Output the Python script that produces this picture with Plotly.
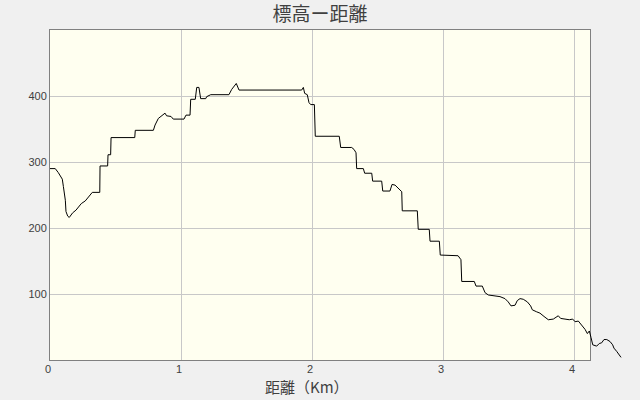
import plotly.graph_objects as go

# Elevation profile: distance (km) and elevation (m)
distance_km = [
    0.000, 0.040, 0.063, 0.082, 0.094, 0.102, 0.109, 0.117, 0.122, 0.135,
    0.147, 0.160, 0.173, 0.198, 0.211, 0.239, 0.269, 0.295, 0.323, 0.380,
    0.382, 0.440, 0.443, 0.463, 0.466, 0.647, 0.651, 0.789, 0.802, 0.827,
    0.853, 0.878, 0.890, 0.924, 0.941, 1.023, 1.038, 1.069, 1.074, 1.109,
    1.120, 1.137, 1.150, 1.189, 1.196, 1.227, 1.366, 1.387, 1.422, 1.443,
    1.921, 1.934, 1.944, 1.964, 1.977, 1.990, 2.018, 2.025, 2.208, 2.219,
    2.303, 2.321, 2.336, 2.341, 2.392, 2.402, 2.456, 2.463, 2.532, 2.540,
    2.595, 2.611, 2.634, 2.664, 2.685, 2.689, 2.804, 2.811, 2.895, 2.901,
    2.972, 2.979, 3.115, 3.137, 3.143, 3.239, 3.252, 3.300, 3.321, 3.346,
    3.384, 3.435, 3.473, 3.498, 3.519, 3.550, 3.567, 3.588, 3.613, 3.644,
    3.669, 3.682, 3.715, 3.740, 3.771, 3.804, 3.842, 3.868, 3.880, 3.898,
    3.931, 3.964, 3.990, 4.008, 4.033, 4.059, 4.084, 4.102, 4.117, 4.130,
    4.143, 4.173, 4.193, 4.211, 4.229, 4.250, 4.275, 4.295, 4.305, 4.326,
    4.344, 4.359,
]
elevation_m = [
    290, 290, 284, 278, 274, 263, 252, 242, 225, 218,
    216, 220, 223, 227, 230, 237, 241, 247, 254, 254,
    294, 294, 311, 311, 337, 337, 348, 348, 356, 366,
    370, 374, 370, 369, 365, 365, 371, 371, 395, 395,
    413, 413, 396, 396, 399, 402, 402, 410, 419, 409,
    409, 413, 404, 402, 390, 387, 387, 339, 339, 322,
    322, 319, 314, 290, 290, 283, 283, 271, 271, 256,
    256, 266, 265, 259, 255, 226, 226, 198, 198, 180,
    180, 159, 158, 152, 119, 119, 112, 112, 102, 98.5,
    97.5, 96, 93, 88, 82, 83, 90, 93, 92, 88,
    82, 76, 73, 71, 66, 61, 62, 65, 67, 63,
    62, 61, 62, 58, 59, 53, 46.5, 40, 44, 34,
    23, 21, 25, 26, 31, 31, 28, 23, 18, 13,
    8, 4,
]

x_ticks = [0, 1, 2, 3, 4]
y_ticks = [100, 200, 300, 400]

PX_PER_KM = 131.0
PLOT_W = 540      # framed plot width in px
DATA_W = 575      # width the profile may run into (beyond frame)

fig = go.Figure()
fig.add_trace(go.Scatter(
    x=distance_km, y=elevation_m, mode="lines",
    line=dict(color="#000000", width=1),
    xaxis="x2", yaxis="y2", hoverinfo="skip", showlegend=False,
))
# invisible trace to make the framed subplot exist
fig.add_trace(go.Scatter(x=[None], y=[None], xaxis="x", yaxis="y",
                         showlegend=False, hoverinfo="skip"))

tick_font = dict(family="Liberation Sans, DejaVu Sans, sans-serif", size=11, color="#404040")
cjk = "Noto Sans CJK JP, sans-serif"

fig.update_layout(
    width=640, height=400,
    margin=dict(l=50, r=15, t=30, b=40, autoexpand=False),
    paper_bgcolor="#f0f0f0",
    plot_bgcolor="rgba(0,0,0,0)",
    title=dict(text="標高ー距離", x=0.5, xanchor="center", y=1 - 14.5 / 400, yanchor="middle",
               automargin=False,
               font=dict(family=cjk, size=19, color="#404040")),
    xaxis=dict(domain=[0, PLOT_W / DATA_W], range=[0, PLOT_W / PX_PER_KM],
               tickvals=x_ticks, ticktext=[str(v) for v in x_ticks],
               showgrid=True, gridcolor="#c8c8c8", gridwidth=1, zeroline=False,
               showline=True, linecolor="#808080", linewidth=1, mirror=True,
               ticks="", tickfont=tick_font, automargin=False,
               ticklabelshift=-2, ticklabelstandoff=-1),
    yaxis=dict(domain=[0, 1], range=[0, 500], tickvals=y_ticks,
               showgrid=True, gridcolor="#c8c8c8", gridwidth=1, zeroline=False,
               showline=True, linecolor="#808080", linewidth=1, mirror=True,
               ticks="", tickfont=tick_font, automargin=False),
    xaxis2=dict(domain=[0, 1], range=[0, DATA_W / PX_PER_KM], anchor="y2",
                visible=False, showgrid=False, zeroline=False, automargin=False),
    yaxis2=dict(domain=[0, 1], range=[0, 500], anchor="x2",
                visible=False, showgrid=False, zeroline=False, automargin=False),
    shapes=[dict(type="rect", xref="x domain", yref="y domain", x0=0, x1=1, y0=0, y1=1,
                 fillcolor="#fffff0", line=dict(width=0), layer="below")],
    annotations=[dict(text="距離（Km）", xref="paper", yref="paper",
                      x=(307 - 50) / DATA_W, y=-(386 - 360) / 330,
                      xanchor="center", yanchor="middle", showarrow=False,
                      font=dict(family=cjk, size=15, color="#404040"))],
)

fig.write_html("out.html", config={"displayModeBar": False},
               post_script="document.body.style.margin='0';document.body.style.overflow='hidden';")
